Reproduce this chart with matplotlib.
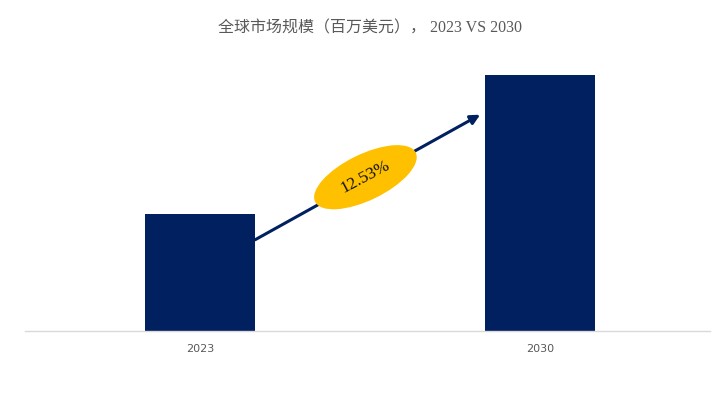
import matplotlib
matplotlib.use("Agg")
import matplotlib.pyplot as plt
from matplotlib.patches import Ellipse
from matplotlib import transforms

# values (no labels in the picture)
years = ["2023", "2030"]
market_size = [1170, 2560]
cagr_label = "12.53%"
title = "全球市场规模（百万美元）， 2023 VS 2030"

navy = "#002060"
gold = "#FFC000"

fig = plt.figure(figsize=(7.22, 4.05), dpi=100)
ax = fig.add_axes([25 / 722, 74 / 405, 685 / 722, 271 / 405])

x = list(range(len(years)))
ax.bar(x, market_size, width=0.324, color=navy, zorder=2)
ax.set_xlim(-0.515, 1.5)
ax.set_ylim(0, 2710)

ax.set_xticks(x)
ax.set_xticklabels(years, fontsize=8, color="#595959")
ax.tick_params(axis="x", length=0, pad=9)
ax.set_yticks([])
for s in ["top", "left", "right"]:
    ax.spines[s].set_visible(False)
ax.spines["bottom"].set_color("#D9D9D9")
ax.spines["bottom"].set_linewidth(1)

# growth arrow from the 2023 bar to the 2030 bar
start = (x[0] + 0.162, market_size[0] * 0.78)
end = (x[1] - 0.176, market_size[1] * 0.845)
ax.annotate("", xy=end, xytext=start,
            arrowprops=dict(arrowstyle="-|>", color=navy, lw=2.2,
                            mutation_scale=14, shrinkA=0, shrinkB=0),
            zorder=3)

# yellow ellipse with the CAGR
mid = (start[0] + (end[0] - start[0]) * 0.49, start[1] + (end[1] - start[1]) * 0.5)
tr = fig.dpi_scale_trans + transforms.ScaledTranslation(mid[0], mid[1], ax.transData)
ell = Ellipse((0, 0), width=1.12, height=0.46, angle=26, transform=tr,
              facecolor=gold, edgecolor="none", zorder=4)
ax.add_patch(ell)
ax.text(mid[0], mid[1], cagr_label, rotation=28, ha="center", va="center",
        rotation_mode="anchor", fontsize=12.5, family="Liberation Serif",
        color="#111111", zorder=5)

fig.text(370 / 722, 1 - 28 / 405, title, ha="center", va="center",
         fontsize=11.5, color="#595959",
         family=["Liberation Serif", "Noto Sans CJK SC", "DejaVu Sans"])

fig.savefig("out.png", dpi=100)
